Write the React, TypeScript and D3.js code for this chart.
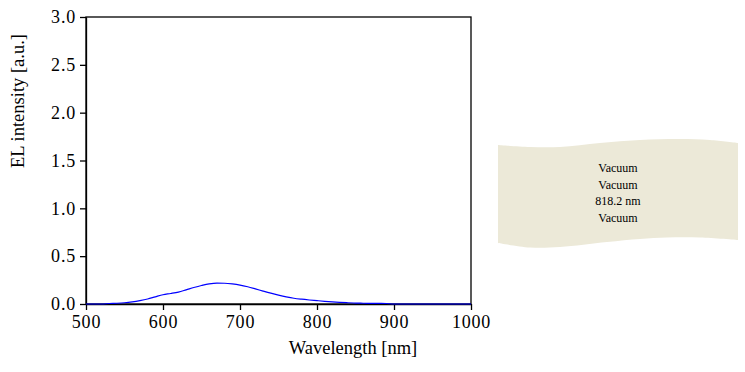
import React, { useEffect, useRef } from 'react';
import * as d3 from 'd3';

// EL spectrum
const wavelengths = [
  500, 510, 520, 530, 540, 550, 560, 570, 580, 590, 600, 610, 620, 630, 640, 650, 660, 670, 680, 690,
  700, 710, 720, 730, 740, 750, 760, 770, 780, 790, 800, 810, 820, 830, 840, 850, 860, 870, 880, 890,
  900, 920, 950, 1000,
];
const intensity = [
  0, 0, 0, 0.005, 0.008, 0.013, 0.022, 0.035, 0.052, 0.075, 0.097, 0.11, 0.125, 0.148, 0.172, 0.193,
  0.21, 0.218, 0.217, 0.21, 0.198, 0.18, 0.158, 0.135, 0.113, 0.093, 0.075, 0.06, 0.05, 0.042, 0.035,
  0.028, 0.022, 0.017, 0.013, 0.01, 0.008, 0.007, 0.006, 0.005, 0, 0, 0, 0,
];
const xTicks = [500, 600, 700, 800, 900, 1000];
const yTicks = [0, 0.5, 1.0, 1.5, 2.0, 2.5, 3.0];
const legendLines = ['Vacuum', 'Vacuum', '818.2 nm', 'Vacuum'];

const W = 745;
const H = 372;
const font = '"Liberation Serif", "Times New Roman", serif';

export default function App() {
  const ref = useRef<SVGSVGElement>(null);

  useEffect(() => {
    const svg = d3.select(ref.current);
    svg.selectAll('*').remove();

    const margin = { top: 17, left: 86 };
    const width = 385,
      height = 287;

    const x = d3.scaleLinear().domain([500, 1000]).range([0, width]);
    const y = d3.scaleLinear().domain([0, 3]).range([height, 0]);

    const g = svg.append('g').attr('transform', `translate(${margin.left},${margin.top})`);

    // frame
    g.append('rect')
      .attr('x', 0)
      .attr('y', 0)
      .attr('width', width)
      .attr('height', height)
      .attr('fill', 'none')
      .attr('stroke', '#000')
      .attr('stroke-width', 1.3);

    const xAxis = g
      .append('g')
      .attr('transform', `translate(0,${height})`)
      .call(d3.axisBottom(x).tickValues(xTicks).tickSize(6).tickSizeOuter(0).tickFormat(d3.format('d')));
    const yAxis = g
      .append('g')
      .call(d3.axisLeft(y).tickValues(yTicks).tickSize(6).tickSizeOuter(0).tickFormat(d3.format('.1f')));

    [xAxis, yAxis].forEach((a) => {
      a.select('.domain').attr('stroke', '#000').attr('stroke-width', 1.3);
      a.selectAll('.tick line').attr('stroke', '#000').attr('stroke-width', 1.3);
      a.selectAll('.tick text')
        .attr('font-family', font)
        .attr('font-size', 18)
        .attr('letter-spacing', 0.8)
        .attr('fill', '#000');
    });
    xAxis.selectAll('.tick text').attr('dy', '0.95em').attr('y', 7);
    yAxis.selectAll('.tick text').attr('x', -10);

    const data = wavelengths.map((w, i) => [w, intensity[i]] as [number, number]);
    const line = d3
      .line<[number, number]>()
      .x((d) => x(d[0]))
      .y((d) => y(d[1]))
      .curve(d3.curveMonotoneX);
    g.append('path')
      .datum(data)
      .attr('d', line)
      .attr('fill', 'none')
      .attr('stroke', '#0000ff')
      .attr('stroke-width', 1.2);

    // axis titles
    svg
      .append('text')
      .attr('x', 353)
      .attr('y', 354)
      .attr('text-anchor', 'middle')
      .attr('font-family', font)
      .attr('font-size', 18.5)
      .text('Wavelength [nm]');
    svg
      .append('text')
      .attr('transform', 'translate(24,101) rotate(-90)')
      .attr('text-anchor', 'middle')
      .attr('font-family', font)
      .attr('font-size', 18.5)
      .text('EL intensity [a.u.]');

    // wavy legend banner
    const top: [number, number][] = [
      [498, 145], [530, 147], [560, 147], [600, 143], [640, 140], [680, 139], [710, 140], [738, 143],
    ];
    const bottom: [number, number][] = [
      [738, 240], [700, 237.5], [667, 237.5], [640, 239], [607, 242], [560, 247], [530, 247.5], [498, 243],
    ];
    const edge = d3.line().curve(d3.curveCatmullRom);
    svg
      .append('path')
      .attr('d', edge(top) + 'L' + (edge(bottom) || '').slice(1) + 'Z')
      .attr('fill', '#ece9d8');

    svg
      .append('g')
      .selectAll('text')
      .data(legendLines)
      .enter()
      .append('text')
      .attr('x', 618)
      .attr('y', (d, i) => 172 + i * 16.7)
      .attr('text-anchor', 'middle')
      .attr('font-family', font)
      .attr('font-size', 12)
      .text((d) => d);
  }, []);

  return (
    <svg
      ref={ref}
      width={W}
      height={H}
      style={{ position: 'absolute', left: 0, top: 0, background: '#fff' }}
    />
  );
}
